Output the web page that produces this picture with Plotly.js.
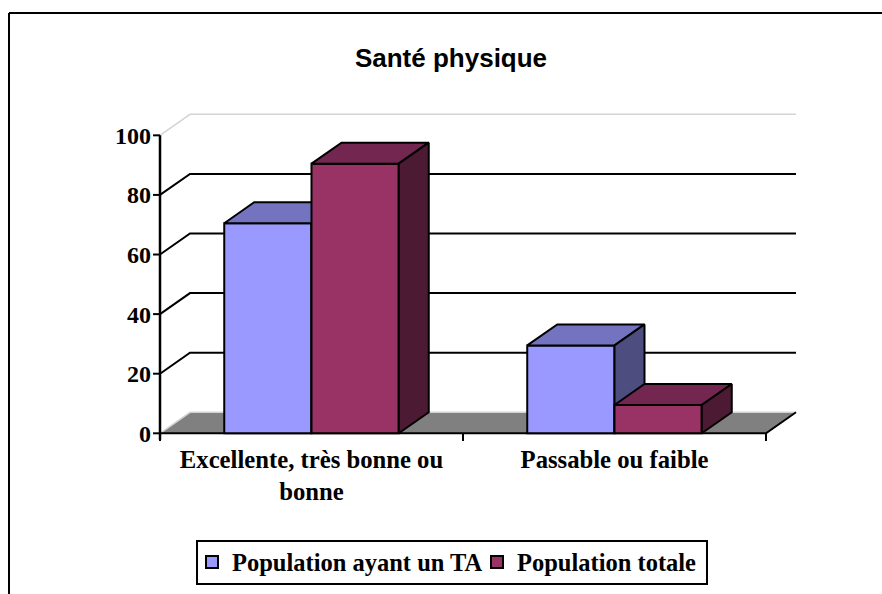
<!DOCTYPE html>
<html><head><meta charset="utf-8">
<script src="https://cdn.plot.ly/plotly-3.0.1.min.js"></script>
<style>html,body{margin:0;padding:0;background:#fff;overflow:hidden}</style>
</head><body><div id="chart" style="width:882px;height:594px"></div>
<script>
const categories = ["Excellente, très bonne ou<br>bonne", "Passable ou faible"];
const seriesTA = [70.5, 29.5];
const seriesTotal = [90.5, 9.5];
const yTicks = [0, 20, 40, 60, 80, 100];
const catBoundaries = [0, 1, 2];

const depthX = 0.099, depthY = 7.05, barW = 0.288;
const serif = '"Liberation Serif", serif';
const line2 = {color:'#000', width:2};

function face(xs, ys, fill, xa, ya){
  return {type:'scatter', mode:'lines', x:xs, y:ys, fill:'toself', fillcolor:fill,
    line:line2, showlegend:false, hoverinfo:'skip', xaxis:xa, yaxis:ya};
}
function seg(xs, ys, color, width){
  return {type:'scatter', mode:'lines', x:xs, y:ys, line:{color:color,width:width},
    showlegend:false, hoverinfo:'skip'};
}
function bars3d(name, vals, offset, front, top, side, xa, ya){
  const out = [{type:'bar', name:name, x:[0.5,1.5], y:vals, width:barW, offset:offset,
    marker:{color:front, line:line2}, xaxis:xa, yaxis:ya, hoverinfo:'y+name'}];
  vals.forEach((v,i)=>{
    const x0 = 0.5+i+offset, x1 = x0+barW;
    out.push(face([x0,x1,x1+depthX,x0+depthX,x0],[v,v,v+depthY,v+depthY,v],top,xa,ya));
    out.push(face([x1,x1,x1+depthX,x1+depthX,x1],[0,v,v+depthY,depthY,0],side,xa,ya));
  });
  return out;
}

const maxX = catBoundaries[catBoundaries.length-1], maxY = yTicks[yTicks.length-1];
const traces = [];
traces.push({type:'scatter',mode:'lines',x:[0,depthX,maxX+depthX,maxX,0],y:[0,depthY,depthY,0,0],
  fill:'toself',fillcolor:'#808080',line:{color:'#808080',width:0},showlegend:false,hoverinfo:'skip'});
yTicks.forEach(t=>{
  const edge = (t===0||t===maxY);
  traces.push(seg([0,depthX,maxX+depthX],[t,t+depthY,t+depthY],edge?'#d4d4d4':'#000',edge?1.5:2));
});
traces.push(seg([0,maxX,maxX+depthX],[0,0,depthY],'#000',2));
traces.push(seg([0,0],[-2.2,maxY],'#000',2.5));
yTicks.forEach(t=>traces.push(seg([-0.023,0],[t,t],'#000',2)));
catBoundaries.forEach(c=>traces.push(seg([c,c],[0,-2.6],'#000',2)));

traces.push(...bars3d('Population ayant un TA', seriesTA, -barW, '#9999FF', '#7373BF', '#4D4D80', 'x2','y2'));
traces.push(...bars3d('Population totale', seriesTotal, 0, '#993366', '#732650', '#4D1A33', 'x3','y3'));

const xr = [-8/303, 640/303], yr = [-2.92, 108.5];
const hidden = {visible:false, fixedrange:true};
const pw = 882-152-82, ph = 594-110-152;
const px = v => (v-152)/pw, py = v => (442-v)/ph;
const layout = {
  width:882, height:594, paper_bgcolor:'#fff', plot_bgcolor:'rgba(0,0,0,0)',
  margin:{l:152,r:82,t:110,b:152,pad:0},
  title:{text:'Santé physique', font:{family:'"Liberation Sans", Arial, sans-serif',size:26,color:'#000',weight:700},
    x:451/882, xanchor:'center', y:1-58/594, yanchor:'middle'},
  showlegend:true,
  legend:{orientation:'h', xref:'container', yref:'container', x:192/882, xanchor:'left', y:1-539.5/594, yanchor:'top',
    bgcolor:'rgba(0,0,0,0)', borderwidth:0, traceorder:'normal', entrywidth:240, entrywidthmode:'pixels',
    font:{family:serif,size:24.5,color:'#000',weight:700}},
  xaxis:{range:xr, tickmode:'array', tickvals:[0.5,1.5], ticktext:categories, ticklen:0, ticks:'',
    showgrid:false, zeroline:false, showline:false, fixedrange:true,
    tickfont:{family:serif,size:24.7,color:'#000',weight:700}},
  yaxis:{range:yr, tickmode:'array', tickvals:yTicks, ticktext:yTicks.map(String), ticklen:0, ticks:'',
    showgrid:false, zeroline:false, showline:false, fixedrange:true,
    tickfont:{family:serif,size:24,color:'#000',weight:700}},
  xaxis2:Object.assign({range:xr, overlaying:'x', anchor:'y2'},hidden),
  yaxis2:Object.assign({range:yr, overlaying:'y', anchor:'x2'},hidden),
  xaxis3:Object.assign({range:xr, overlaying:'x', anchor:'y3'},hidden),
  yaxis3:Object.assign({range:yr, overlaying:'y', anchor:'x3'},hidden),
  shapes:[
    {type:'line',xref:'paper',yref:'paper',x0:px(9),x1:px(882),y0:py(13),y1:py(13),line:{color:'#000',width:2}},
    {type:'line',xref:'paper',yref:'paper',x0:px(9),x1:px(9),y0:py(13),y1:py(594),line:{color:'#000',width:2}},
    {type:'rect',xref:'paper',yref:'paper',x0:px(197),x1:px(707),y0:py(584),y1:py(541),line:{color:'#000',width:2},layer:'below'}
  ]
};
Plotly.newPlot('chart', traces, layout, {displayModeBar:false, staticPlot:true});
</script></body></html>
